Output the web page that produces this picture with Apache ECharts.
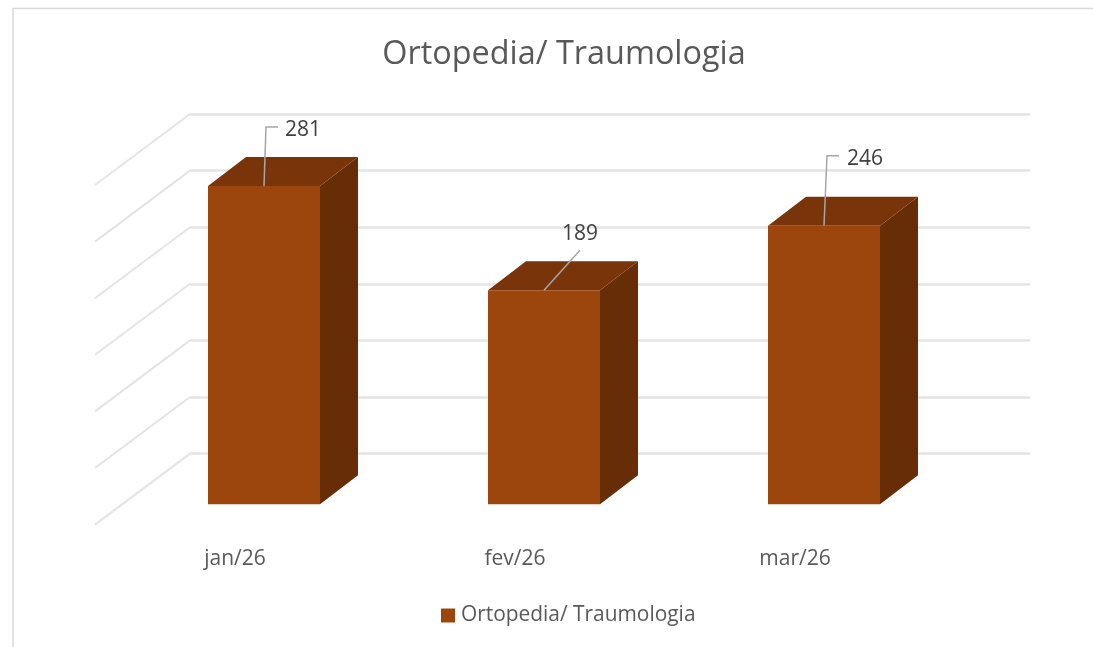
<!DOCTYPE html>
<html>
<head>
<meta charset="utf-8">
<style>
  html, body { margin: 0; padding: 0; background: #fff; }
  #chart { width: 1093px; height: 647px; }
</style>
<script src="https://cdn.jsdelivr.net/npm/echarts@6/dist/echarts.min.js"></script>
</head>
<body>
<div id="chart"></div>
<script>
const categories = ['jan/26', 'fev/26', 'mar/26'];
const seriesName = 'Ortopedia/ Traumologia';
const values = [281, 189, 246];
const gridTicks = [50, 100, 150, 200, 250, 300, 350];

// leader lines and label spots, relative to the middle of each bar's front top edge
const leaderOffsets = [
  [[2, -59], [14, -59]],
  [[36, -40]],
  [[3, -70], [15, -70]]
];
const labelOffsets = [[39, -56], [36, -56], [41, -67]];

const fontFamily = '"Open Sans", sans-serif';
const frontColor = '#9c460d';
const topColor = '#793409';
const sideColor = '#662d06';
const lineColor = '#e4e4e4';

// pseudo 3d: how far the bar sits in front of the back wall, and its own depth
const barWidth = 112;
const depthX = 38;
const depthY = 29;
const frontShiftX = -66;
const frontShiftY = -6;
const wallDepthX = 95;
const wallDepthY = 71;

const myChart = echarts.init(document.getElementById('chart'));

const renderBar = (params, api) => {
  const i = api.value(0);
  const val = api.value(1);
  const topPt = api.coord([i, val]);
  const basePt = api.coord([i, 0]);
  const cx = topPt[0] + frontShiftX;
  const x0 = cx - barWidth / 2;
  const x1 = cx + barWidth / 2;
  const yTop = topPt[1] + frontShiftY;
  const yBase = basePt[1] + frontShiftY;
  const leader = [[cx, yTop]].concat(leaderOffsets[i].map(p => [cx + p[0], yTop + p[1]]));
  const lab = labelOffsets[i];
  return {
    type: 'group',
    children: [
      {
        type: 'polygon',
        shape: { points: [[x1, yTop], [x1 + depthX, yTop - depthY], [x1 + depthX, yBase - depthY], [x1, yBase]] },
        style: { fill: sideColor }
      },
      {
        type: 'polygon',
        shape: { points: [[x0, yTop], [x0 + depthX, yTop - depthY], [x1 + depthX, yTop - depthY], [x1, yTop]] },
        style: { fill: topColor }
      },
      {
        type: 'rect',
        shape: { x: x0, y: yTop, width: barWidth, height: yBase - yTop },
        style: { fill: frontColor }
      },
      {
        type: 'polyline',
        shape: { points: leader },
        style: { fill: null, stroke: '#a6a6a6', lineWidth: 1.5 }
      },
      {
        type: 'text',
        x: cx + lab[0],
        y: yTop + lab[1],
        style: {
          text: String(val),
          fill: '#404040',
          font: '21px ' + fontFamily,
          align: 'center',
          verticalAlign: 'middle'
        }
      }
    ]
  };
};

// the slanted lines on the left wall, one per tick
const renderWallLine = (params, api) => {
  const p = api.coord([0, api.value(0)]);
  // the wall starts at the grid's left edge, not at the band centre
  const x = params.coordSys.x;
  return {
    type: 'line',
    shape: { x1: x, y1: p[1], x2: x - wallDepthX, y2: p[1] + wallDepthY },
    style: { stroke: lineColor, lineWidth: 2 }
  };
};

const options = {
  animation: false,
  backgroundColor: '#fff',
  title: {
    text: seriesName,
    left: 559,
    top: 34,
    textAlign: 'center',
    textStyle: { fontFamily: fontFamily, fontSize: 32.4, fontWeight: 'normal', color: '#595959' }
  },
  legend: {
    left: 436,
    top: 600,
    data: [seriesName],
    icon: 'rect',
    itemWidth: 14,
    itemHeight: 14,
    itemGap: 6,
    textStyle: { fontFamily: fontFamily, fontSize: 20.9, color: '#595959', padding: [0, 0, 0, 1] }
  },
  // grid 0 is the back wall, grid 1 only carries the month labels
  grid: [
    { left: 190, top: 114, width: 840, height: 396.2 },
    { left: 95, top: 114, width: 840, height: 396.2 }
  ],
  xAxis: [
    { type: 'category', gridIndex: 0, data: categories, show: false },
    {
      type: 'category',
      gridIndex: 1,
      data: categories,
      axisLine: { show: false },
      axisTick: { show: false },
      axisLabel: { margin: 38, fontFamily: fontFamily, fontSize: 21, color: '#595959' }
    }
  ],
  yAxis: [
    {
      type: 'value',
      gridIndex: 0,
      min: 0,
      max: 350,
      interval: 50,
      axisLine: { show: false },
      axisTick: { show: false },
      axisLabel: { show: false },
      splitLine: { show: true, showMinLine: false, lineStyle: { color: lineColor, width: 2.5 } }
    },
    {
      type: 'value',
      gridIndex: 1,
      min: 0,
      max: 350,
      interval: 50,
      show: false,
      splitLine: { show: false }
    }
  ],
  series: [
    {
      name: 'wall',
      type: 'custom',
      xAxisIndex: 0,
      yAxisIndex: 0,
      renderItem: renderWallLine,
      data: gridTicks.map(t => [t]),
      encode: { y: 0 },
      silent: true,
      z: 1
    },
    {
      name: seriesName,
      type: 'custom',
      xAxisIndex: 0,
      yAxisIndex: 0,
      renderItem: renderBar,
      itemStyle: { color: frontColor },
      data: values.map((v, i) => [i, v]),
      encode: { x: 0, y: 1 },
      z: 3
    }
  ],
  graphic: [
    {
      type: 'polyline',
      shape: { points: [[13, 647], [13, 8.5], [1093, 8.5]] },
      style: { fill: null, stroke: '#d9d9d9', lineWidth: 1.5 },
      silent: true
    }
  ]
};

myChart.setOption(options);
</script>
</body>
</html>
